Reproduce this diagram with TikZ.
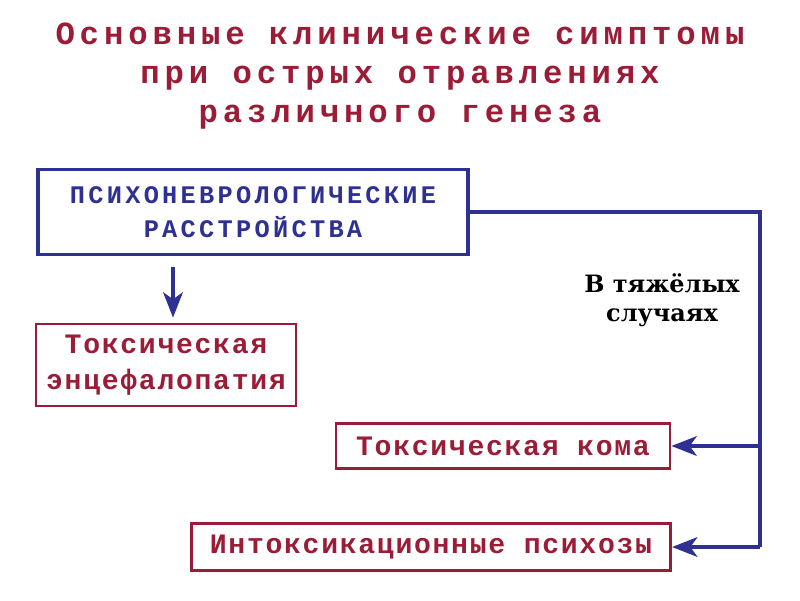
\documentclass[tikz,border=0pt]{standalone}
\usepackage{fontspec}
\setmainfont{Liberation Serif}
\newfontfamily\titlefont[LetterSpace=15]{Liberation Mono}
\newfontfamily\boxfont[LetterSpace=13]{Liberation Mono}
\newfontfamily\redfont[LetterSpace=6]{Liberation Mono}
\newfontfamily\notefont{DejaVu Serif}
\usetikzlibrary{arrows.meta,positioning}
\definecolor{wine}{HTML}{9B1C36}
\definecolor{navy}{HTML}{2E3192}

\tikzset{
  bluebox/.style={draw=navy,line width=2.8pt,text=navy,align=center,
    font=\boxfont\bfseries\fontsize{18}{24}\selectfont},
  redbox/.style={draw=wine,line width=2pt,text=wine,align=center,
    font=\redfont\bfseries\fontsize{20}{26}\selectfont},
  link/.style={draw=navy,line width=2.4pt},
  arr/.style={link,-{Stealth[length=18pt,width=14pt,inset=5pt]}}
}

\begin{document}
\begin{tikzpicture}[x=0.025cm,y=-0.025cm]
  \useasboundingbox (0,0) rectangle (800,600);
  \node[text=wine,align=center,font=\titlefont\bfseries\fontsize{23}{28}\selectfont]
    (title) at (400,76) {Основные клинические симптомы\\при острых отравлениях\\различного генеза};

  \node[bluebox,minimum width=10.75cm,minimum height=2.125cm] (psy) at (253,212)
    {ПСИХОНЕВРОЛОГИЧЕСКИЕ\\РАССТРОЙСТВА};
  \node[redbox,minimum width=6.5cm,minimum height=2.05cm] (enc) at (166,365)
    {Токсическая\\энцефалопатия};
  \node[redbox,minimum width=8.35cm,minimum height=1.125cm] (coma) at (503,446)
    {Токсическая кома};
  \node[redbox,minimum width=11.98cm,minimum height=1.18cm] (psych) at (431,547)
    {Интоксикационные психозы};

  \node[align=center,font=\notefont\bfseries\fontsize{17}{21}\selectfont] (severe) at (662,300)
    {В тяжёлых\\случаях};

  % rail on the right
  \coordinate (rail) at (760,0);
  \coordinate (drop) at (173,0);
  \draw[link] (psy.east) -| (psych.east -| rail);
  \draw[arr] (coma.east -| rail) -- (coma.east);
  \draw[arr] (psych.east -| rail) -- (psych.east);
  \draw[arr,shorten <=11*0.025cm,shorten >=5*0.025cm] (psy.south -| drop) -- (enc.north -| drop);
\end{tikzpicture}
\end{document}
